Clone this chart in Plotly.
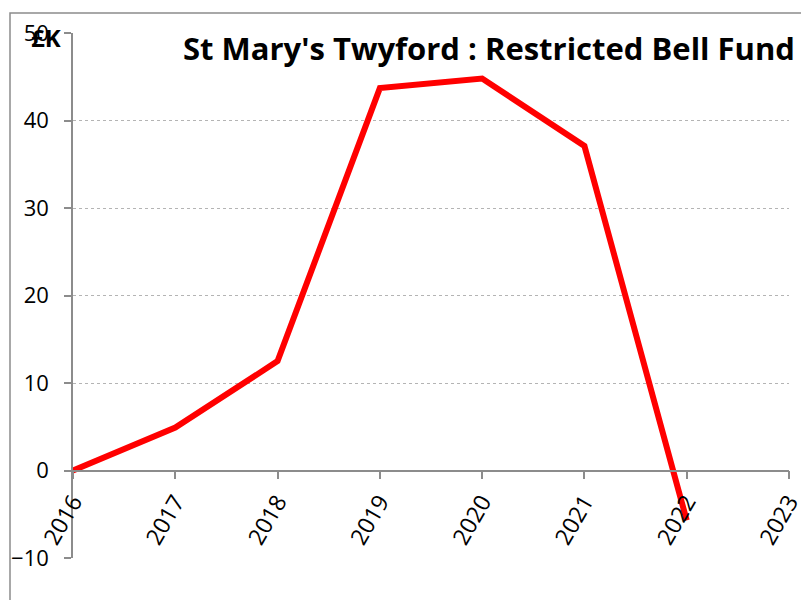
import plotly.graph_objects as go

years = [2016, 2017, 2018, 2019, 2020, 2021, 2022]
fund_k = [0.0, 4.9, 12.5, 43.7, 44.8, 37.1, -5.7]
y_ticks = [-10, 0, 10, 20, 30, 40, 50]
x_ticks = [2016, 2017, 2018, 2019, 2020, 2021, 2022, 2023]
title_text = "St Mary's Twyford : Restricted Bell Fund"
unit_text = "£K"

axis_grey = "#8c8c8c"
font_family = "Open Sans"

# page offset (browser body margin)
OFF = 8
PL, PR, PT, PB = 73, 789, 33, 558  # plot area in screenshot pixels
PW, PH = PR - PL, PB - PT


def px(sx):
    return (sx - PL) / PW


def py(sy):
    return (PB - sy) / PH


fig = go.Figure()
fig.add_trace(go.Scatter(
    x=years, y=fund_k, mode="lines",
    line=dict(color="#ff0000", width=6),
    hoverinfo="x+y", showlegend=False,
))

fig.update_layout(
    width=809, height=600,
    margin=dict(l=PL - OFF, r=809 - (PR - OFF), t=PT - OFF, b=600 - (PB - OFF), autoexpand=False),
    paper_bgcolor="white", plot_bgcolor="white",
    font=dict(family=font_family, size=23, color="black"),
    xaxis=dict(
        range=[2016, 2023], tickvals=x_ticks, ticktext=[str(v) for v in x_ticks],
        tickangle=-60, showgrid=False, zeroline=False, automargin=False,
        showline=True, linecolor=axis_grey, linewidth=1.5,
        ticks="outside", ticklen=8, tickcolor=axis_grey, tickwidth=1.5,
        anchor="free", position=10 / 60,
        tickfont=dict(size=23),
    ),
    yaxis=dict(
        range=[-10, 50], tickvals=y_ticks, domain=[0, 1], automargin=False,
        showgrid=True, gridcolor="#b4b4b4", griddash="dot", gridwidth=1,
        zeroline=False, showline=True, linecolor=axis_grey, linewidth=1.5,
        ticks="outside", ticklen=7, tickcolor=axis_grey, tickwidth=1.5,
        ticklabelstandoff=11,
        tickfont=dict(size=22),
    ),
    shapes=[dict(
        type="rect", xref="paper", yref="paper",
        x0=px(10), x1=1.2, y0=-0.3, y1=py(13),
        line=dict(color=axis_grey, width=1.5), fillcolor="rgba(0,0,0,0)",
        layer="below",
    )],
    annotations=[
        dict(text="<b>" + title_text + "</b>", xref="paper", yref="paper",
             x=px(797), y=py(48), xanchor="right", yanchor="middle",
             showarrow=False, font=dict(size=31, family=font_family, color="black")),
        dict(text="<b>" + unit_text + "</b>", xref="paper", yref="paper",
             x=px(46), y=py(38), xanchor="center", yanchor="middle",
             showarrow=False, font=dict(size=24, family=font_family, color="black")),
    ],
)

fig.write_html("out.html")
